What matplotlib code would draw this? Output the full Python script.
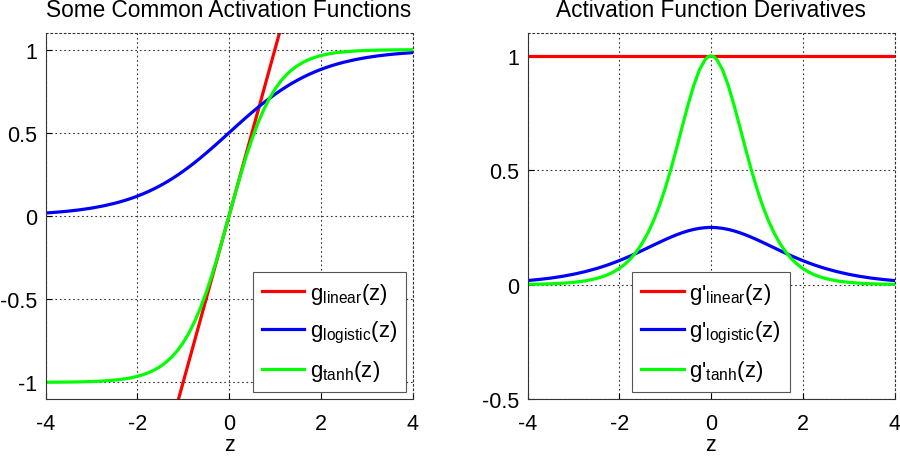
import matplotlib
matplotlib.use("Agg")
import matplotlib.pyplot as plt

plt.rcParams['font.family'] = ['Liberation Sans', 'DejaVu Sans']
plt.rcParams['mathtext.fontset'] = 'custom'
plt.rcParams['mathtext.rm'] = 'Liberation Sans'
plt.rcParams['mathtext.default'] = 'regular'

# sample points
z = [-4, -3.75, -3.5, -3.25, -3, -2.75, -2.5, -2.375, -2.25, -2.125, -2, -1.875,
     -1.75, -1.625, -1.5, -1.375, -1.25, -1.125, -1, -0.875, -0.75, -0.625, -0.5,
     -0.375, -0.25, -0.125, -0.0625,
     0, 0.0625, 0.125, 0.25, 0.375, 0.5, 0.625, 0.75, 0.875, 1, 1.125, 1.25,
     1.375, 1.5, 1.625, 1.75, 1.875, 2, 2.125, 2.25, 2.375, 2.5, 2.75, 3, 3.25,
     3.5, 3.75, 4]

linear_z = [-4, 4]
linear_g = [-4, 4]
linear_d = [1, 1]

logistic_g = [0.0180, 0.0230, 0.0293, 0.0373, 0.0474, 0.0601, 0.0759, 0.0851,
              0.0953, 0.1067, 0.1192, 0.1330, 0.1480, 0.1645, 0.1824, 0.2018,
              0.2227, 0.2451, 0.2689, 0.2942, 0.3208, 0.3487, 0.3775, 0.4073,
              0.4378, 0.4688, 0.4844,
              0.5, 0.5156, 0.5312, 0.5622, 0.5927, 0.6225, 0.6513, 0.6792, 0.7058,
              0.7311, 0.7549, 0.7773, 0.7982, 0.8176, 0.8355, 0.8520, 0.8670,
              0.8808, 0.8933, 0.9047, 0.9149, 0.9241, 0.9399, 0.9526, 0.9627,
              0.9707, 0.9770, 0.9820]
tanh_g = [-0.9993, -0.9989, -0.9982, -0.9970, -0.9951, -0.9919, -0.9866, -0.9828,
          -0.9780, -0.9719, -0.9640, -0.9540, -0.9414, -0.9253, -0.9051, -0.8798,
          -0.8483, -0.8093, -0.7616, -0.7039, -0.6351, -0.5546, -0.4621, -0.3584,
          -0.2449, -0.1244, -0.0624,
          0, 0.0624, 0.1244, 0.2449, 0.3584, 0.4621, 0.5546, 0.6351, 0.7039,
          0.7616, 0.8093, 0.8483, 0.8798, 0.9051, 0.9253, 0.9414, 0.9540, 0.9640,
          0.9719, 0.9780, 0.9828, 0.9866, 0.9919, 0.9951, 0.9970, 0.9982,
          0.9989, 0.9993]
logistic_d = [0.0177, 0.0225, 0.0284, 0.0359, 0.0452, 0.0565, 0.0701, 0.0779,
              0.0862, 0.0953, 0.1050, 0.1153, 0.1261, 0.1374, 0.1491, 0.1611,
              0.1731, 0.1850, 0.1966, 0.2076, 0.2179, 0.2271, 0.2350, 0.2414,
              0.2461, 0.2490, 0.2498,
              0.25, 0.2498, 0.2490, 0.2461, 0.2414, 0.2350, 0.2271, 0.2179, 0.2076,
              0.1966, 0.1850, 0.1731, 0.1611, 0.1491, 0.1374, 0.1261, 0.1153,
              0.1050, 0.0953, 0.0862, 0.0779, 0.0701, 0.0565, 0.0452, 0.0359,
              0.0284, 0.0225, 0.0177]
tanh_d = [0.0013, 0.0022, 0.0036, 0.0060, 0.0099, 0.0161, 0.0266, 0.0341,
          0.0435, 0.0554, 0.0707, 0.0899, 0.1138, 0.1438, 0.1808, 0.2259,
          0.2804, 0.3450, 0.4200, 0.5045, 0.5966, 0.6924, 0.7864, 0.8715,
          0.9400, 0.9845, 0.9961,
          1.0, 0.9961, 0.9845, 0.9400, 0.8715, 0.7864, 0.6924, 0.5966, 0.5045,
          0.4200, 0.3450, 0.2804, 0.2259, 0.1808, 0.1438, 0.1138, 0.0899,
          0.0707, 0.0554, 0.0435, 0.0341, 0.0266, 0.0161, 0.0099, 0.0060,
          0.0036, 0.0022, 0.0013]

fig = plt.figure(figsize=(9, 4.6), dpi=100)
ax1 = fig.add_axes([45.5/900, 60/460, 367/900, 366/460])
ax2 = fig.add_axes([527.5/900, 60/460, 367/900, 366/460])

lw = 2.3
ax1.plot(linear_z, linear_g, color=(1, 0, 0), lw=lw, label='g$_{linear}$(z)')
ax1.plot(z, logistic_g, color=(0, 0, 1), lw=lw, label='g$_{logistic}$(z)')
ax1.plot(z, tanh_g, color=(0, 1, 0), lw=lw, label='g$_{tanh}$(z)')
ax1.set_ylim(-1.1, 1.1)
ax1.set_yticks([-1, -0.5, 0, 0.5, 1])
ax1.set_yticklabels(['-1', '-0.5', '0', '0.5', '1'])
ax1.set_title('Some Common Activation Functions', fontsize=16.3, pad=12)

ax2.plot(linear_z, linear_d, color=(1, 0, 0), lw=lw, label="g'$_{linear}$(z)")
ax2.plot(z, logistic_d, color=(0, 0, 1), lw=lw, label="g'$_{logistic}$(z)")
ax2.plot(z, tanh_d, color=(0, 1, 0), lw=lw, label="g'$_{tanh}$(z)")
ax2.set_ylim(-0.5, 1.1)
ax2.set_yticks([-0.5, 0, 0.5, 1])
ax2.set_yticklabels(['-0.5', '0', '0.5', '1'])
ax2.set_title('Activation Function Derivatives', fontsize=16.3, pad=12)

for ax, loc in ((ax1, 'lower right'), (ax2, 'lower center')):
    ax.set_xlim(-4, 4)
    ax.set_xticks([-4, -2, 0, 2, 4])
    ax.set_xticklabels(['-4', '-2', '0', '2', '4'])
    ax.set_xlabel('z', fontsize=15.5, labelpad=0)
    ax.grid(True, linestyle=(0, (1.5, 2.5)), color='#333333', lw=0.8)
    ax.tick_params(direction='in', labelsize=15.5, length=4, width=0.8)
    ax.tick_params(axis='x', pad=10)
    ax.tick_params(axis='y', pad=6)
    for s in ('top', 'right'):
        ax.spines[s].set_linestyle((0, (1.5, 2.5)))
        ax.spines[s].set_color('#333333')
        ax.spines[s].set_linewidth(0.8)
    for s in ('left', 'bottom'):
        ax.spines[s].set_color('#333333')
    leg = ax.legend(loc=loc, fontsize=16, fancybox=False,
                    framealpha=1, edgecolor='#555555', handlelength=1.9,
                    handletextpad=0.25, borderaxespad=0.3, labelspacing=0.6)
    leg.get_frame().set_linewidth(0.8)

fig.savefig('out.png', dpi=100)
